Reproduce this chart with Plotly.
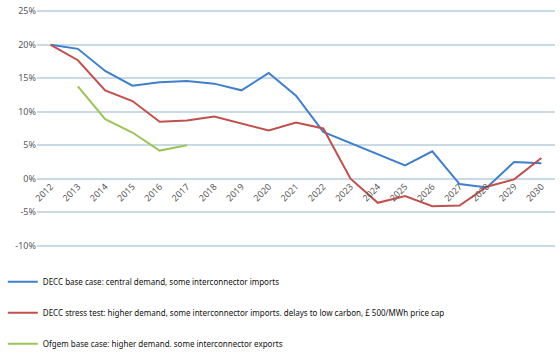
import plotly.graph_objects as go

years = [str(y) for y in range(2012, 2031)]
decc_base = [20.0, 19.4, 16.1, 13.9, 14.4, 14.6, 14.2, 13.2, 15.8, 12.4, 7.0, 5.3, 3.7, 2.0, 4.1, -0.8, -1.3, 2.5, 2.3]
decc_stress = [20.0, 17.7, 13.2, 11.6, 8.5, 8.7, 9.3, 8.2, 7.2, 8.4, 7.5, 0.0, -3.6, -2.6, -4.1, -4.0, -1.2, -0.1, 3.1]
ofgem_years = ["2013", "2014", "2015", "2016", "2017"]
ofgem_base = [13.8, 8.9, 6.9, 4.2, 5.0]
y_ticks = [-10, -5, 0, 5, 10, 15, 20, 25]
y_labels = ["-10%", "-5%", "0%", "5%", "10%", "15%", "20%", "25%"]

names = [
    "DECC base case: central demand, some interconnector imports",
    "DECC stress test: higher demand, some interconnector imports. delays to low carbon, £ 500/MWh price cap",
    "Ofgem base case: higher demand. some interconnector exports",
]
colors = ["#3F7FCC", "#C0504D", "#9BC55A"]

fig = go.Figure()
fig.add_trace(go.Scatter(x=years, y=decc_base, mode="lines", name=names[0],
                         line=dict(color=colors[0], width=2), legendgroup="a"))
fig.add_trace(go.Scatter(x=years, y=decc_stress, mode="lines", name=names[1],
                         line=dict(color=colors[1], width=2), legendgroup="b"))
fig.add_trace(go.Scatter(x=ofgem_years, y=ofgem_base, mode="lines", name=names[2],
                         line=dict(color=colors[2], width=2), legendgroup="c"))

ymin, ymax = -10.2, 25.2
fig.update_layout(
    width=560, height=363,
    margin=dict(l=37, r=5, t=10, b=116, autoexpand=False),
    paper_bgcolor="white", plot_bgcolor="white",
    font=dict(family="Noto Sans", size=9, color="#595959"),
    showlegend=True,
    legend=dict(orientation="v", x=-0.066, y=-0.085, xanchor="left", yanchor="top",
                font=dict(size=8, color="#111111"), tracegroupgap=12,
                itemwidth=30, bgcolor="rgba(0,0,0,0)"),
    xaxis=dict(type="category", categoryorder="array", categoryarray=years,
               range=[-0.5, len(years) - 0.5], automargin=False,
               anchor="free", position=(0 - ymin) / (ymax - ymin),
               showgrid=False, showline=False, ticks="", tickangle=-45,
               tickfont=dict(size=9, color="#595959")),
    yaxis=dict(range=[ymin, ymax], tickmode="array", tickvals=y_ticks, ticktext=y_labels,
               showgrid=True, gridcolor="#C9DAE6", gridwidth=1.5, automargin=False,
               zeroline=False, showline=False, ticks="",
               tickfont=dict(size=9, color="#595959")),
)

fig.write_html("out.html", config={"displayModeBar": False},
               post_script="document.body.style.margin='0';")
